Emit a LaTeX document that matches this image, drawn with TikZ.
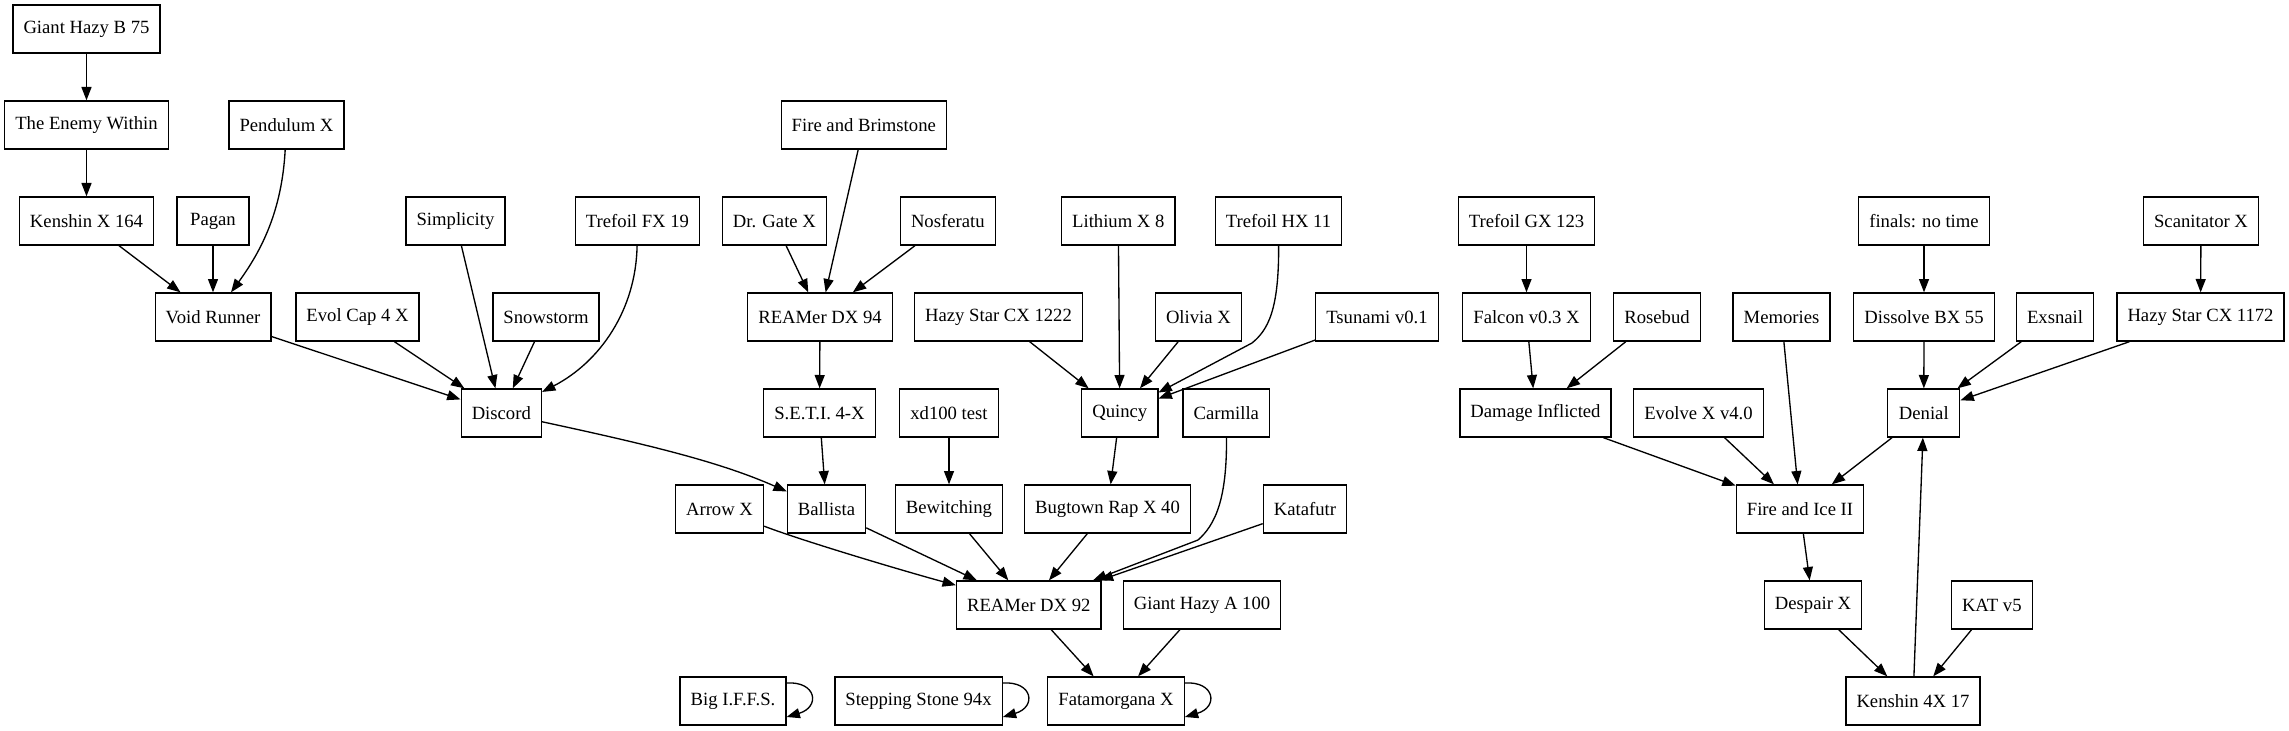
\documentclass[tikz,border=0pt]{standalone}
\usepackage{fontspec}
\setmainfont{Liberation Serif}
\usetikzlibrary{arrows.meta,calc}
\begin{document}
\begin{tikzpicture}[x=0.75pt,y=-0.75pt,
  box/.style={draw=black, line width=1pt, rectangle, minimum height=36pt, minimum width=54pt, inner xsep=7.92pt, inner ysep=0pt, font=\fontsize{14}{16}\selectfont},
  edge/.style={draw=black, line width=1pt, -{Triangle[length=10pt,width=7.5pt]}}]
\useasboundingbox (0,0) rectangle (2289,731);
% rank 0
\node[box] (g75) at (86.5,29) {Giant Hazy B 75};
% rank 1
\node[box] (tew) at (86.5,125) {The Enemy Within};
\node[box] (pen) at (286.5,125) {Pendulum X};
\node[box] (fab) at (863.8,125) {Fire and Brimstone};
% rank 2
\node[box] (k164) at (86.5,221) {Kenshin X 164};
\node[box] (pag) at (213,221) {Pagan};
\node[box] (sim) at (455.5,221) {Simplicity};
\node[box] (tfx) at (637.5,221) {Trefoil FX 19};
\node[box] (dgx) at (774.4,221) {Dr. Gate X};
\node[box] (nos) at (947.8,221) {Nosferatu};
\node[box] (li8) at (1118.3,221) {Lithium X 8};
\node[box] (thx) at (1278.5,221) {Trefoil HX 11};
\node[box] (tgx) at (1526.5,221) {Trefoil GX 123};
\node[box] (fin) at (1924,221) {finals: no time};
\node[box] (scx) at (2201,221) {Scanitator X};
% rank 3
\node[box] (vr) at (213,317) {Void Runner};
\node[box] (ec4) at (357.5,317) {Evol Cap 4 X};
\node[box] (snw) at (546,317) {Snowstorm};
\node[box] (r94) at (820,317) {REAMer DX 94};
\node[box] (hsa) at (998.5,317) {Hazy Star CX 1222};
\node[box] (oli) at (1198.4,317) {Olivia X};
\node[box] (tsu) at (1377,317) {Tsunami v0.1};
\node[box] (fal) at (1526.5,317) {Falcon v0.3 X};
\node[box] (ros) at (1657,317) {Rosebud};
\node[box] (mem) at (1781.5,317) {Memories};
\node[box] (dis) at (1924,317) {Dissolve BX 55};
\node[box] (exs) at (2055,317) {Exsnail};
\node[box] (hsb) at (2200.5,317) {Hazy Star CX 1172};
% rank 4
\node[box] (dc) at (501.3,413) {Discord};
\node[box] (seti) at (819.5,413) {S.E.T.I. 4-X};
\node[box] (xd) at (949,413) {xd100 test};
\node[box] (qu) at (1119.8,413) {Quincy};
\node[box] (car) at (1226.3,413) {Carmilla};
\node[box] (dmg) at (1535.5,413) {Damage Inflicted};
\node[box] (evo) at (1698.5,413) {Evolve X v4.0};
\node[box] (den) at (1923.8,413) {Denial};
% rank 5
\node[box] (arx) at (719.5,509) {Arrow X};
\node[box] (bal) at (826.5,509) {Ballista};
\node[box] (bew) at (949,509) {Bewitching};
\node[box] (bug) at (1107.5,509) {Bugtown Rap X 40};
\node[box] (kat) at (1305,509) {Katafutr};
\node[box] (fi2) at (1800,509) {Fire and Ice II};
% rank 6
\node[box] (r92) at (1028.8,605) {REAMer DX 92};
\node[box] (gha) at (1202,605) {Giant Hazy A 100};
\node[box] (des) at (1813,605) {Despair X};
\node[box] (kv5) at (1991.8,605) {KAT v5};
% rank 7
\node[box] (iffs) at (733,701) {Big I.F.F.S.};
\node[box] (ss) at (918.5,701) {Stepping Stone 94x};
\node[box] (fata) at (1116,701) {Fatamorgana X};
\node[box] (k4x) at (1913,701) {Kenshin 4X 17};

% edges
\draw[edge] (g75) -- (tew);
\draw[edge] (tew) -- (k164);
\draw[edge] (k164) -- (vr);
\draw[edge] (pag) -- (vr);
\draw[edge] (pen) .. controls (282,210) and (262,250) .. (vr);
\draw[edge] (vr) -- (dc);
\draw[edge] (ec4) -- (dc);
\draw[edge] (sim) -- (dc);
\draw[edge] (snw) -- (dc);
\draw[edge] (tfx) .. controls (636,310) and (600,362) .. (dc);
\draw[edge] (dc) .. controls (650,445) and (720,462) .. (bal);
\draw[edge] (fab) -- (r94);
\draw[edge] (dgx) -- (r94);
\draw[edge] (nos) -- (r94);
\draw[edge] (r94) -- (seti);
\draw[edge] (seti) -- (bal);
\draw[edge] (xd) -- (bew);
\draw[edge] (hsa) -- (qu);
\draw[edge] (li8) -- (qu);
\draw[edge] (oli) -- (qu);
\draw[edge] (thx) .. controls (1279,310) and (1268,330) .. (1252,343) -- (qu);
\draw[edge] (tsu) -- (qu);
\draw[edge] (qu) -- (bug);
\draw[edge] (arx) .. controls (800,540) and (900,570) .. (r92);
\draw[edge] (bal) -- (r92);
\draw[edge] (bew) -- (r92);
\draw[edge] (bug) -- (r92);
\draw[edge] (car) .. controls (1227,500) and (1215,525) .. (1198,540) -- (r92);
\draw[edge] (kat) -- (r92);
\draw[edge] (r92) -- (fata);
\draw[edge] (gha) -- (fata);
\draw[edge] ($(iffs.east)+(0,-18)$) .. controls +(30,-2) and +(34,-10) .. ($(iffs.east)+(0,16)$);
\draw[edge] ($(ss.east)+(0,-18)$) .. controls +(30,-2) and +(34,-10) .. ($(ss.east)+(0,16)$);
\draw[edge] ($(fata.east)+(0,-18)$) .. controls +(30,-2) and +(34,-10) .. ($(fata.east)+(0,16)$);
\draw[edge] (tgx) -- (fal);
\draw[edge] (fal) -- (dmg);
\draw[edge] (ros) -- (dmg);
\draw[edge] (dmg) -- (fi2);
\draw[edge] (evo) -- (fi2);
\draw[edge] (mem) -- (fi2);
\draw[edge] (den) -- (fi2);
\draw[edge] (fin) -- (dis);
\draw[edge] (dis) -- (den);
\draw[edge] (exs) -- (den);
\draw[edge] (scx) -- (hsb);
\draw[edge] (hsb) -- (den);
\draw[edge] (fi2) -- (des);
\draw[edge] (des) -- (k4x);
\draw[edge] (kv5) -- (k4x);
\draw[edge] (k4x) -- (den);
\end{tikzpicture}
\end{document}
